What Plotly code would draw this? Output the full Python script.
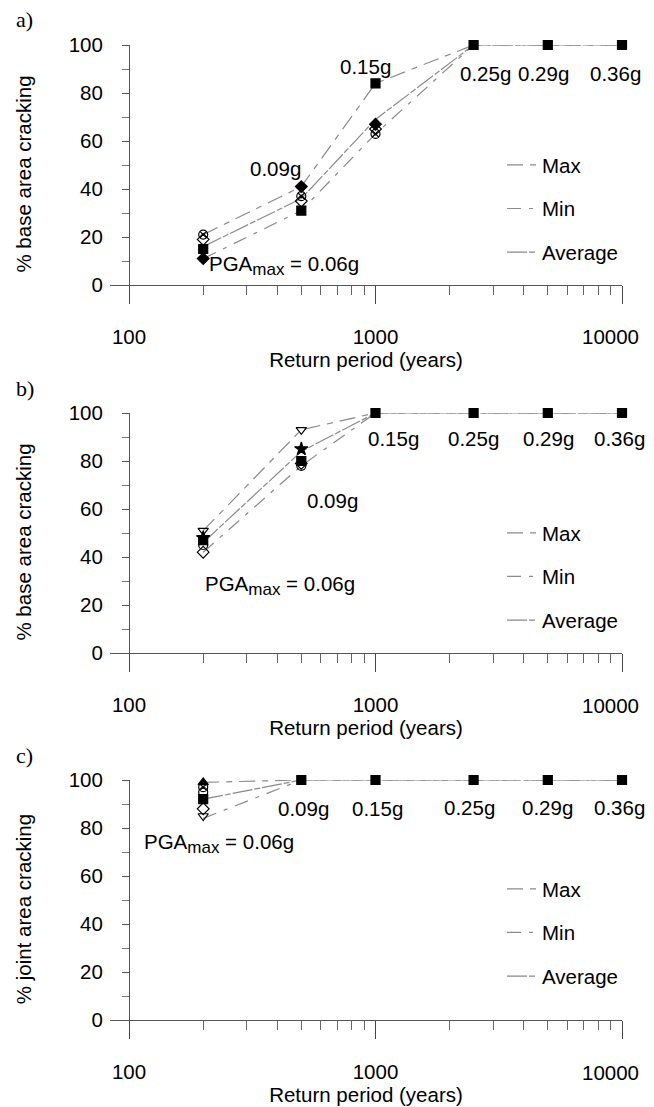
import plotly.graph_objects as go

# page has an 8px body margin: figure is 646x1099 drawn at (8, 8)
OFF = 8
W, H = 654 - OFF, 1107 - OFF

# ---------------- data ----------------
rp = [200, 500, 1000, 2500, 5000, 10000]          # return period (years)
pga = ["0.06g", "0.09g", "0.15g", "0.25g", "0.29g", "0.36g"]

# panel a) % base area cracking
a_max = [21, 41, 84, 100, 100, 100]
a_min = [11, 31, 63, 100, 100, 100]
a_avg = [16, 36, 69, 100, 100, 100]
a_sq = [15, 31, 84, 100, 100, 100]
a_dia = [11, 41, 67]
a_cx = [21, 37, 63]
a_dio = [19, 35, 65]

# panel b) % base area cracking
b_max = [51, 93, 100, 100, 100, 100]
b_min = [42, 78, 100, 100, 100, 100]
b_avg = [46, 84, 100, 100, 100, 100]
b_trd = [51, 93]
b_star = [48, 85]
b_sq = [47, 80, 100, 100, 100, 100]
b_cir = [45, 78]
b_dio = [42, 79]

# panel c) % joint area cracking
c_max = [99, 100, 100, 100, 100, 100]
c_min = [84, 100, 100, 100, 100, 100]
c_avg = [92, 100, 100, 100, 100, 100]
c_tru = [99]
c_cx = [97]
c_cir = [95]
c_sq = [92, 100, 100, 100, 100, 100]
c_dio = [88]
c_trd = [85]

x_ticks = [100, 1000, 10000]
x_ticktext = ["100", "1000", ""]      # last label drawn as annotation (shifted left)
x_last_label = "10000"
x_minor = [200, 300, 400, 500, 600, 700, 800, 900,
           2000, 3000, 4000, 5000, 6000, 7000, 8000, 9000]
y_ticks = [0, 20, 40, 60, 80, 100]
y_minor = [10, 30, 50, 70, 90]

# ---------------- helpers (reference pixel -> paper) ----------------
def px(x):
    return (x - OFF) / W

def py(y):
    return 1 - (y - OFF) / H

FONT = "Liberation Sans, Arial, Helvetica, sans-serif"
FS = 20.5

panels = [
    dict(y100=45, y0=285, title="% base area cracking", letter="a)",
         mx=a_max, mn=a_min, av=a_avg, leg_top=165),
    dict(y100=413, y0=653, title="% base area cracking", letter="b)",
         mx=b_max, mn=b_min, av=b_avg, leg_top=533),
    dict(y100=780, y0=1020, title="% joint area cracking", letter="c)",
         mx=c_max, mn=c_min, av=c_avg, leg_top=889),
]

fig = go.Figure()
layout = dict(
    width=W, height=H, margin=dict(l=0, r=0, t=0, b=0, autoexpand=False),
    paper_bgcolor="white", plot_bgcolor="white",
    font=dict(family=FONT, size=FS, color="black"),
    showlegend=True,
)

dash_max = "16px,7px,6px,7px"
dash_min = "14px,8px,4px,8px"
dash_avg = "20px,2px,6px,2px"
line_col = "#8a8a8a"

annots = []
for i, p in enumerate(panels):
    k = "" if i == 0 else str(i + 1)
    xa, ya = "x" + k, "y" + k
    scale = (p["y0"] - p["y100"]) / 100.0
    below = 18
    layout["xaxis" + k] = dict(
        type="log", range=[2 - 19 / 246.5, 4],
        domain=[px(110), px(622)], anchor="free", position=py(p["y0"]),
        tickvals=x_ticks, ticktext=x_ticktext,
        ticks="outside", ticklen=18, tickcolor="#444", tickwidth=1,
        minor=dict(tickvals=x_minor, ticks="outside", ticklen=9,
                   tickcolor="#666", tickwidth=1, showgrid=False),
        showline=True, linecolor="#555", linewidth=1, showgrid=False,
        zeroline=False, ticklabelstandoff=15, automargin=False,
        tickfont=dict(size=FS),
        title=dict(text="Return period (years)", standoff=0, font=dict(size=FS)),
    )
    layout["yaxis" + k] = dict(
        range=[-below / scale, 100],
        domain=[py(p["y0"] + below), py(p["y100"])],
        anchor="free", position=px(129),
        tickvals=y_ticks, ticks="outside", ticklen=7, tickcolor="#555",
        minor=dict(tickvals=y_minor, ticks="outside", ticklen=7,
                   tickcolor="#777", showgrid=False),
        showline=True, linecolor="#555", linewidth=1, showgrid=False,
        zeroline=False, ticklabelstandoff=15, automargin=False,
        tickfont=dict(size=FS),
        title=dict(text=p["title"], standoff=30, font=dict(size=FS)),
    )
    leg = "legend" + k
    layout[leg] = dict(
        x=px(502), xanchor="left", y=py(p["leg_top"] - 20), yanchor="top",
        bgcolor="rgba(0,0,0,0)", font=dict(size=FS), tracegroupgap=14,
        itemwidth=30,
    )
    for name, vals, dash in [("Max", p["mx"], dash_max),
                             ("Min", p["mn"], dash_min),
                             ("Average", p["av"], dash_avg)]:
        fig.add_trace(go.Scatter(
            x=rp, y=vals, mode="lines", name=name,
            line=dict(color=line_col, width=1.2, dash=dash),
            xaxis=xa, yaxis=ya, legend=leg, legendgroup=f"{i}{name}",
            cliponaxis=False,
        ))
    annots.append(dict(text=p["letter"], x=px(14), y=py(p["y100"] - 25),
                       xref="paper", yref="paper", xanchor="left",
                       yanchor="middle", showarrow=False,
                       font=dict(family="Liberation Serif, Times New Roman, serif",
                                 size=22)))
    # last x tick label, shifted left as in the reference
    annots.append(dict(text=x_last_label, x=px(641), y=py(p["y0"] + 52),
                       xref="paper", yref="paper", xanchor="right",
                       yanchor="middle", showarrow=False, font=dict(size=FS)))

def markers(xs, ys, sym, k, size=9):
    fig.add_trace(go.Scatter(
        x=xs, y=ys, mode="markers", showlegend=False,
        marker=dict(symbol=sym, size=size, color="black",
                    line=dict(color="black", width=1.2)),
        xaxis="x" + k, yaxis="y" + k, cliponaxis=False,
    ))

# panel a markers
markers(rp[:3], a_cx, "circle-x-open", "")
markers(rp[:3], a_dio, "diamond-open", "")
markers(rp[:3], a_dia, "diamond", "")
markers(rp, a_sq, "square", "")
# panel b markers
markers(rp[:2], b_trd, "triangle-down-open", "2")
markers(rp[:2], b_cir, "circle-open", "2")
markers(rp[:2], b_dio, "diamond-open", "2")
markers(rp[:2], b_star, "star", "2", 10)
markers(rp, b_sq, "square", "2")
# panel c markers
markers(rp[:1], c_trd, "triangle-down-open", "3")
markers(rp[:1], c_dio, "diamond-open", "3")
markers(rp[:1], c_cir, "circle-open", "3")
markers(rp[:1], c_cx, "circle-x-open", "3")
markers(rp[:1], c_tru, "triangle-up", "3")
markers(rp, c_sq, "square", "3")

# PGA labels (reference pixel centres)
label_pos = [
    [(None, None), (275, 168), (365, 67), (485, 73), (543, 73), (615, 73)],
    [(None, None), (332, 500), (393, 438), (473, 438), (548, 438), (619, 438)],
    [(None, None), (303, 808), (378, 808), (469, 807), (547, 807), (619, 807)],
]
pga_left = [(207, 265), (203, 585), (142, 843)]

for i in range(3):
    for j in range(1, 6):
        cx, cy = label_pos[i][j]
        annots.append(dict(text=pga[j], x=px(cx), y=py(cy), xref="paper",
                           yref="paper", xanchor="center", yanchor="middle",
                           showarrow=False, font=dict(size=FS)))
    lx, ly = pga_left[i]
    annots.append(dict(
        text="PGA<sub><span style='font-size:17px'>max</span></sub> = " + pga[0],
        x=px(lx), y=py(ly), xref="paper", yref="paper", xanchor="left",
        yanchor="middle", showarrow=False, font=dict(size=FS)))

layout["annotations"] = annots
fig.update_layout(**layout)
fig.write_html("out.html")
